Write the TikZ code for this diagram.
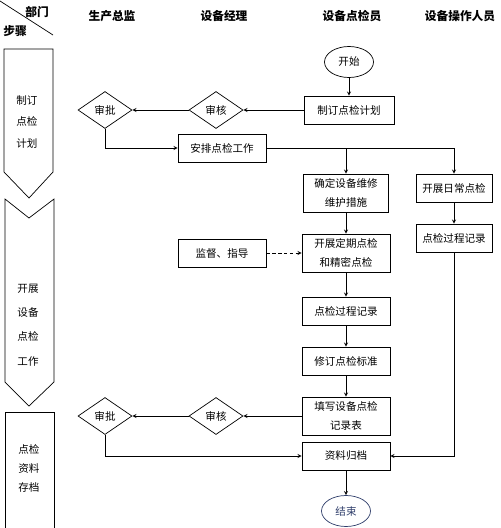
\documentclass[tikz,border=0pt]{standalone}
\usepackage{fontspec}
\setmainfont{Noto Sans CJK SC}
\usetikzlibrary{shapes.geometric}
\definecolor{endblue}{RGB}{45,60,105}
\begin{document}
\begin{tikzpicture}[x=0.03cm,y=-0.03cm,>=stealth,line width=0.6pt,
    font=\fontsize{9}{16}\selectfont,
    head/.style={font=\fontsize{10}{12}\selectfont\bfseries},
    box/.style={draw,rectangle,align=center,inner sep=1pt,minimum width=2.64cm,minimum height=0.84cm},
    tall/.style={minimum height=1.14cm},
    narrow/.style={minimum width=2.28cm},
    chk/.style={draw,diamond,inner sep=0pt,minimum width=1.62cm,minimum height=1.11cm},
    term/.style={draw,ellipse,inner sep=0pt,minimum width=1.47cm,minimum height=0.93cm}]
  \useasboundingbox (0,0) rectangle (500,528);
  % header
  \draw (0,1) -- (53,35);
  \node[head] (dept) at (37,12) {部门};
  \node[head] (stepname) at (15,31) {步骤};
  \node[head] (director) at (112,16) {生产总监};
  \node[head] (manager) at (224,16) {设备经理};
  \node[head] (inspector) at (352,16) {设备点检员};
  \node[head] (operator) at (460,16) {设备操作人员};
  % step column
  \draw (4,49) -- (53,49) -- (53,172) -- (29,198) -- (4,172) -- cycle;
  \draw (5,199) -- (29,218) -- (54,199) -- (54,382) -- (29,406) -- (5,382) -- cycle;
  \draw (5,528) -- (5,412) -- (54,412) -- (54,528);
  \node[align=center,font=\fontsize{9}{18.7}\selectfont] (step1) at (27,122) {制订\\点检\\计划};
  \node[align=center,font=\fontsize{9}{20.8}\selectfont] (step2) at (28,325) {开展\\设备\\点检\\工作};
  \node[align=center,font=\fontsize{9}{16.2}\selectfont] (step3) at (29,468) {点检\\资料\\存档};
  % flow
  \node[term] (start) at (349,62) {开始};
  \node[box,minimum width=2.7cm] (plan) at (349,110) {制订点检计划};
  \node[chk] (audit1) at (216,110) {审核};
  \node[chk] (approve1) at (105,110) {审批};
  \node[box] (arrange) at (222,148) {安排点检工作};
  \node[box,tall,minimum width=2.55cm] (measure) at (346,193) {确定设备维修\\维护措施};
  \node[box,narrow] (daily) at (454,188) {开展日常点检};
  \node[box,narrow] (drec) at (454,238) {点检过程记录};
  \node[box] (guide) at (222,253) {监督、指导};
  \node[box,tall] (regular) at (346,253) {开展定期点检\\和精密点检};
  \node[box] (record) at (346,311) {点检过程记录};
  \node[box] (revise) at (346,361) {修订点检标准};
  \node[box,tall] (fill) at (346,416) {填写设备点检\\记录表};
  \node[chk] (audit2) at (216,416) {审核};
  \node[chk] (approve2) at (105,416) {审批};
  \node[box] (archive) at (346,456) {资料归档};
  \node[term,draw=endblue,text=endblue] (finish) at (346,511) {结束};
  % connectors
  \draw[->] (start) -- (plan);
  \draw[->] (plan) -- (audit1);
  \draw[->] (audit1) -- (approve1);
  \draw[->] (approve1.south) |- (arrange);
  \draw[->] (arrange.east) -| (measure.north);
  \draw[->] (arrange.east) -| (daily.north);
  \draw[->] (daily) -- (drec);
  \draw[->,dash pattern=on 3pt off 2pt] (guide) -- (regular);
  \draw[->] (measure) -- (regular);
  \draw[->] (regular) -- (record);
  \draw[->] (record) -- (revise);
  \draw[->] (revise) -- (fill);
  \draw[->] (fill) -- (audit2);
  \draw[->] (audit2) -- (approve2);
  \draw[->] (approve2.south) |- (archive.west);
  \draw[->] (drec.south) |- (archive.east);
  \draw[->] (archive) -- (finish);
\end{tikzpicture}
\end{document}
